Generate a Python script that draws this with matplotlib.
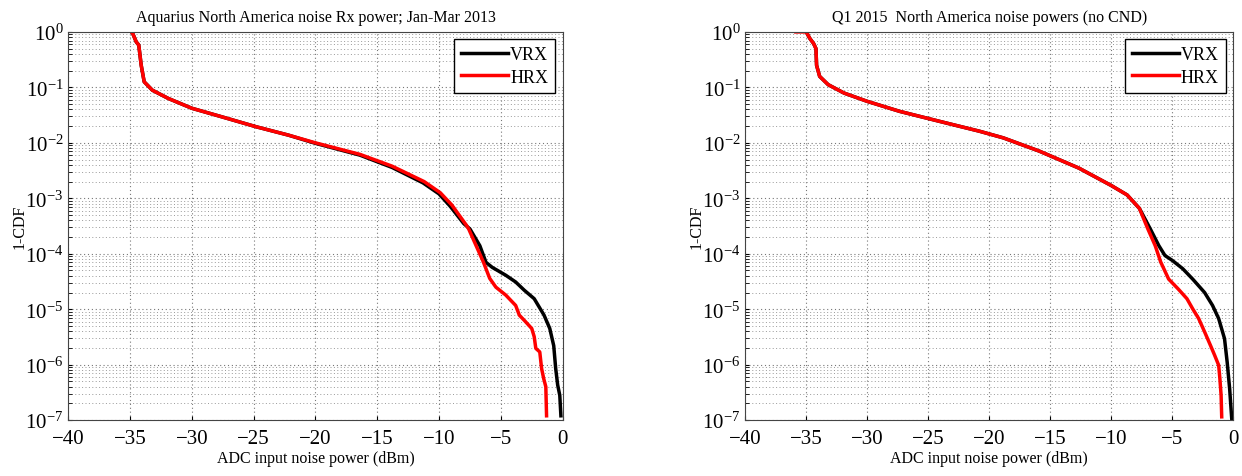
import matplotlib.pyplot as plt
from matplotlib.ticker import LogLocator, NullFormatter

plt.rcParams['font.family'] = ['Liberation Serif', 'DejaVu Serif']
plt.rcParams['mathtext.fontset'] = 'stix'

# Left panel: Aquarius Jan-Mar 2013
left_vrx_x = [-34.9, -34.8, -34.5, -34.3, -34.1, -33.86, -33.2, -31.9, -30.0, -27.7, -24.8,
              -22.2, -20.0, -16.4, -13.8, -11.3, -10.0, -9.1, -8.0, -7.5, -6.7, -6.2, -5.7,
              -4.6, -3.8, -3.1, -2.3, -1.5, -1.04, -0.72, -0.56, -0.4, -0.23, -0.14]
left_vrx_y = [1.0, 0.95, 0.66, 0.58, 0.25, 0.126, 0.089, 0.063, 0.042, 0.030, 0.0195,
              0.0138, 0.0098, 0.006, 0.0036, 0.0019, 0.0012, 7.2e-4, 3.5e-4, 2.8e-4, 1.4e-4, 7e-5, 5.7e-5,
              4.1e-5, 3.1e-5, 2.2e-5, 1.55e-5, 7.8e-6, 4.5e-6, 2.2e-6, 8.5e-7, 4.3e-7, 2.8e-7, 1.2e-7]
left_hrx_x = [-34.9, -34.8, -34.5, -34.3, -34.1, -33.86, -33.2, -31.9, -30.0, -27.7, -24.8,
              -22.2, -20.0, -16.4, -13.8, -11.2, -9.9, -8.97, -7.8, -7.6, -7.0, -6.4, -5.9,
              -5.4, -4.6, -3.8, -3.5, -3.1, -2.5, -2.3, -2.17, -1.85, -1.7, -1.53, -1.36, -1.3]
left_hrx_y = [1.0, 0.95, 0.66, 0.58, 0.25, 0.126, 0.089, 0.063, 0.042, 0.030, 0.0195,
              0.0138, 0.01, 0.0062, 0.0038, 0.002, 0.00126, 7.6e-4, 3.3e-4, 2.8e-4, 1.4e-4, 7e-5, 3.6e-5,
              2.5e-5, 1.8e-5, 1.17e-5, 7.8e-6, 6.3e-6, 4.5e-6, 3.2e-6, 1.97e-6, 1.7e-6, 8.5e-7, 5.6e-7, 4e-7, 1.2e-7]

# Right panel: Q1 2015
right_vrx_x = [-35.0, -34.7, -34.4, -34.2, -34.15, -33.9, -33.2, -31.9, -30.0, -27.35, -24.1,
               -20.8, -18.85, -15.9, -12.65, -10.0, -8.7, -7.7, -6.8, -6.1, -5.6, -5.0, -4.15,
               -3.33, -2.35, -1.7, -1.2, -0.72, -0.5, -0.3, -0.13]
right_vrx_y = [1.0, 0.76, 0.62, 0.5, 0.25, 0.158, 0.112, 0.079, 0.056, 0.037, 0.0245,
               0.0162, 0.0123, 0.0071, 0.0035, 0.0017, 0.00115, 6.6e-4, 2.8e-4, 1.4e-4, 9.3e-5, 7.6e-5, 5.4e-5,
               3.5e-5, 2.0e-5, 1.17e-5, 6.8e-6, 2.95e-6, 1.1e-6, 3.7e-7, 1.07e-7]
right_hrx_x = [-35.85, -35.0, -34.7, -34.4, -34.2, -34.15, -33.9, -33.2, -31.9, -30.0, -27.35,
               -24.1, -20.8, -18.85, -15.9, -12.65, -10.0, -8.7, -7.7, -7.0, -6.4, -5.95, -5.3,
               -4.5, -3.8, -3.33, -2.84, -2.35, -1.86, -1.54, -1.2, -1.1, -1.0, -0.95]
right_hrx_y = [1.0, 1.0, 0.76, 0.62, 0.5, 0.25, 0.158, 0.112, 0.079, 0.056, 0.037,
               0.0245, 0.0162, 0.0123, 0.0071, 0.0035, 0.0017, 0.00115, 6.6e-4, 2.8e-4, 1.4e-4, 7.1e-5, 3.5e-5,
               2.3e-5, 1.55e-5, 1.02e-5, 6.8e-6, 3.9e-6, 2.2e-6, 1.5e-6, 9.8e-7, 5.6e-7, 2.8e-7, 1.15e-7]

titles = ['Aquarius North America noise Rx power; Jan-Mar 2013',
          'Q1 2015  North America noise powers (no CND)']
xticks = [-40, -35, -30, -25, -20, -15, -10, -5, 0]

fig = plt.figure(figsize=(12.42, 4.77), dpi=100)
ax1 = fig.add_axes([0.055, 0.117, 0.398, 0.814])
ax2 = fig.add_axes([0.600, 0.117, 0.393, 0.814])

panels = [(ax1, left_vrx_x, left_vrx_y, left_hrx_x, left_hrx_y),
          (ax2, right_vrx_x, right_vrx_y, right_hrx_x, right_hrx_y)]

for i, (ax, vx, vy, hx, hy) in enumerate(panels):
    ax.semilogy(vx, vy, color='black', lw=2.5, label='VRX')
    ax.semilogy(hx, hy, color='red', lw=2.5, label='HRX')
    ax.set_xlim(-40, 0)
    ax.set_ylim(1e-7, 1)
    ax.set_xticks(xticks)
    ax.set_xticklabels(['\u2212%d' % -t if t < 0 else '0' for t in xticks])
    ax.yaxis.set_major_locator(LogLocator(base=10, numticks=10))
    ax.yaxis.set_minor_locator(LogLocator(base=10, subs=range(2, 10), numticks=100))
    ax.yaxis.set_minor_formatter(NullFormatter())
    ax.grid(True, which='major', ls=(0, (1, 2.5)), color='#777777', lw=0.8)
    ax.grid(True, which='minor', axis='y', ls=(0, (1, 2.5)), color='#999999', lw=0.7)
    ax.tick_params(labelsize=15, direction='in', which='both', length=3)
    ax.tick_params(axis='x', pad=6)
    ax.set_title(titles[i], fontsize=11.5, pad=8)
    ax.set_xlabel('ADC input noise power (dBm)', fontsize=11.5, labelpad=2)
    ax.set_ylabel('1-CDF', fontsize=11.5, labelpad=-2)
    for s in ax.spines.values():
        s.set_color('#444444')
    leg = ax.legend(loc='upper right', fontsize=13, handlelength=2.6, handletextpad=0.1,
                    fancybox=False, framealpha=1, borderaxespad=0.4, labelspacing=0.3)
    leg.get_frame().set_edgecolor('black')

fig.savefig('out.png', dpi=100)
